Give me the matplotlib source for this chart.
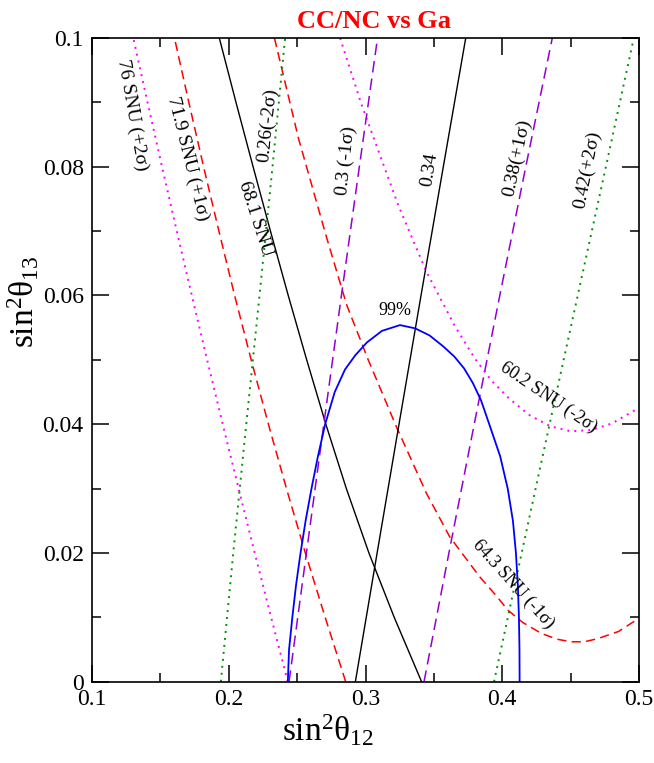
import matplotlib
matplotlib.use("Agg")
import matplotlib.pyplot as plt
from matplotlib.ticker import MultipleLocator, FixedLocator, FixedFormatter

plt.rcParams['font.family'] = ['Liberation Serif', 'DejaVu Serif']
plt.rcParams['mathtext.fontset'] = 'custom'
plt.rcParams['mathtext.rm'] = 'Liberation Serif'
plt.rcParams['mathtext.it'] = 'Liberation Serif:italic'
plt.rcParams['mathtext.bf'] = 'Liberation Serif:bold'

# ---------------- data ----------------
# Ga rate contours (SNU): sin^2(theta13) levels and the sin^2(theta12) read at each
grid_y = [0.0, 0.01, 0.02, 0.03, 0.04, 0.05, 0.06, 0.07, 0.08, 0.09, 0.10]
ga76_x  = [0.2432, 0.2310, 0.2190, 0.2072, 0.1956, 0.1842, 0.1730, 0.1620, 0.1512, 0.1406, 0.1302]
ga719_x = [0.2855, 0.2705, 0.2560, 0.2422, 0.2290, 0.2164, 0.2043, 0.1928, 0.1816, 0.1708, 0.1603]
ga681_x = [0.3410, 0.3210, 0.3025, 0.2860, 0.2710, 0.2570, 0.2435, 0.2305, 0.2178, 0.2053, 0.1931]

ga643_x = [0.2334, 0.2510, 0.2717, 0.2863, 0.3020, 0.3226, 0.3445, 0.3616, 0.3835,
           0.3950, 0.4042, 0.4150, 0.4286, 0.4400, 0.4505, 0.4600, 0.4700, 0.4850, 0.4996]
ga643_y = [0.1000, 0.0844, 0.0689, 0.0585, 0.0500, 0.0396, 0.0293, 0.0225, 0.0163,
           0.0135, 0.0111, 0.0092, 0.0075, 0.0066, 0.0062, 0.0062, 0.0067, 0.0078, 0.0098]

ga602_x = [0.2814, 0.2972, 0.3238, 0.3445, 0.3652, 0.3800, 0.3920, 0.4050, 0.4200,
           0.4350, 0.4500, 0.4650, 0.4800, 0.4996]
ga602_y = [0.1000, 0.0896, 0.0741, 0.0637, 0.0553, 0.0502, 0.0468, 0.0440, 0.0414,
           0.0397, 0.0389, 0.0391, 0.0401, 0.0425]

# CC/NC contours: sin^2(theta13) levels and sin^2(theta12) read at each
cc_y = [0.0, 0.02, 0.04, 0.06, 0.08, 0.10]
ccnc026_x = [0.1942, 0.2033, 0.2128, 0.2225, 0.2320, 0.2412]
ccnc030_x = [0.2441, 0.2568, 0.2695, 0.2824, 0.2955, 0.3088]
ccnc034_x = [0.2926, 0.3085, 0.3245, 0.3406, 0.3569, 0.3733]
ccnc038_x = [0.3428, 0.3610, 0.3795, 0.3982, 0.4172, 0.4366]
ccnc042_x = [0.3940, 0.4142, 0.4346, 0.4552, 0.4758, 0.4962]

# 99% C.L. contour
cl99_x = [0.2432, 0.2441, 0.2465, 0.2492, 0.2525, 0.2562, 0.2605, 0.2652, 0.2705, 0.2775,
          0.2850, 0.2925, 0.3010, 0.3120, 0.3252, 0.3362, 0.3468, 0.3568, 0.3650, 0.3720,
          0.3785, 0.3845, 0.3905, 0.3985, 0.4040, 0.4078, 0.4100, 0.4114, 0.4122, 0.4126,
          0.4127]
cl99_y = [0.0000, 0.0050, 0.0100, 0.0150, 0.0200, 0.0250, 0.0300, 0.0350, 0.0400, 0.0450,
          0.0485, 0.0507, 0.0527, 0.0545, 0.0554, 0.0549, 0.0538, 0.0521, 0.0505, 0.0487,
          0.0464, 0.0437, 0.0400, 0.0350, 0.0300, 0.0250, 0.0200, 0.0150, 0.0100, 0.0050,
          0.0000]

xtick_vals = [0.1, 0.2, 0.3, 0.4, 0.5]
xtick_labels = ['0.1', '0.2', '0.3', '0.4', '0.5']
ytick_vals = [0.0, 0.02, 0.04, 0.06, 0.08, 0.1]
ytick_labels = ['0', '0.02', '0.04', '0.06', '0.08', '0.1']

# ---------------- figure ----------------
fig = plt.figure(figsize=(6.54, 7.63), dpi=100)
ax = fig.add_axes([92/654, 1-681.7/763, 547/654, 643.7/763])

MAG = '#ff00ff'
RED = '#ff0000'
PUR = '#9400d3'
GRN = '#009000'
BLU = '#0000ff'

dot = (0, (1, 2.6))
red_dash = (0, (6, 3.5))
pur_dash = (0, (7.5, 4))
ax.plot(ga76_x, grid_y, color=MAG, lw=1.4, linestyle=dot)
ax.plot(ga602_x, ga602_y, color=MAG, lw=1.4, linestyle=dot)
ax.plot(ga719_x, grid_y, color=RED, lw=1.1, linestyle=red_dash)
ax.plot(ga643_x, ga643_y, color=RED, lw=1.1, linestyle=red_dash)
ax.plot(ga681_x, grid_y, color='black', lw=1.0)
ax.plot(ccnc034_x, cc_y, color='black', lw=1.0)
ax.plot(ccnc026_x, cc_y, color=GRN, lw=1.4, linestyle=dot)
ax.plot(ccnc042_x, cc_y, color=GRN, lw=1.4, linestyle=dot)
ax.plot(ccnc030_x, cc_y, color=PUR, lw=1.1, linestyle=pur_dash)
ax.plot(ccnc038_x, cc_y, color=PUR, lw=1.1, linestyle=pur_dash)
ax.plot(cl99_x, cl99_y, color=BLU, lw=1.3)

ax.set_xlim(0.1, 0.5)
ax.set_ylim(0.0, 0.1)

ax.xaxis.set_major_locator(FixedLocator(xtick_vals))
ax.xaxis.set_major_formatter(FixedFormatter(xtick_labels))
ax.yaxis.set_major_locator(FixedLocator(ytick_vals))
ax.yaxis.set_major_formatter(FixedFormatter(ytick_labels))
ax.xaxis.set_minor_locator(MultipleLocator(0.05))
ax.yaxis.set_minor_locator(MultipleLocator(0.01))
ax.tick_params(which='both', direction='in', top=True, right=True, width=1.1, colors='black')
ax.tick_params(which='major', length=12, labelsize=17)
ax.tick_params(which='minor', length=6.5)
ax.tick_params(axis='x', which='major', pad=5)
ax.tick_params(axis='y', which='major', pad=6)
for s in ax.spines.values():
    s.set_linewidth(1.2)

ax.set_xlabel(r'$\mathrm{sin^2\theta_{12}}$', fontsize=24)
ax.set_ylabel(r'$\mathrm{sin^2\theta_{13}}$', fontsize=24)
ax.xaxis.set_label_coords(0.431, -0.049)
ax.yaxis.set_label_coords(-0.092, 0.591)

ax.set_title('CC/NC vs Ga', color='red', fontweight='bold', fontsize=19, x=0.515, pad=7)

def lab(x, y, s, rot, fs):
    ax.text(x, y, s, rotation=rot, rotation_mode='anchor', ha='center', va='center',
            fontsize=fs, color='black')

lab(0.1295, 0.0880, '76 SNU (+2σ)', -80, 14)
lab(0.1697, 0.0813, '71.9 SNU (+1σ)', -76, 14)
lab(0.2195, 0.0720, '68.1 SNU', -72, 14)
lab(0.2280, 0.0865, '0.26(-2σ)', 84, 14)
lab(0.2857, 0.0810, '0.3 (-1σ)', 84, 14)
lab(0.3471, 0.0795, '0.34', 81, 14)
lab(0.4104, 0.0814, '0.38(+1σ)', 78, 14)
lab(0.4623, 0.0795, '0.42(+2σ)', 79, 14)
lab(0.4340, 0.0441, '60.2 SNU (-2σ)', -34, 13)
lab(0.4078, 0.0152, '64.3 SNU (-1σ)', -48, 13)
lab(0.3216, 0.0576, '99%', 0, 13)

fig.savefig('out.png', dpi=100)
